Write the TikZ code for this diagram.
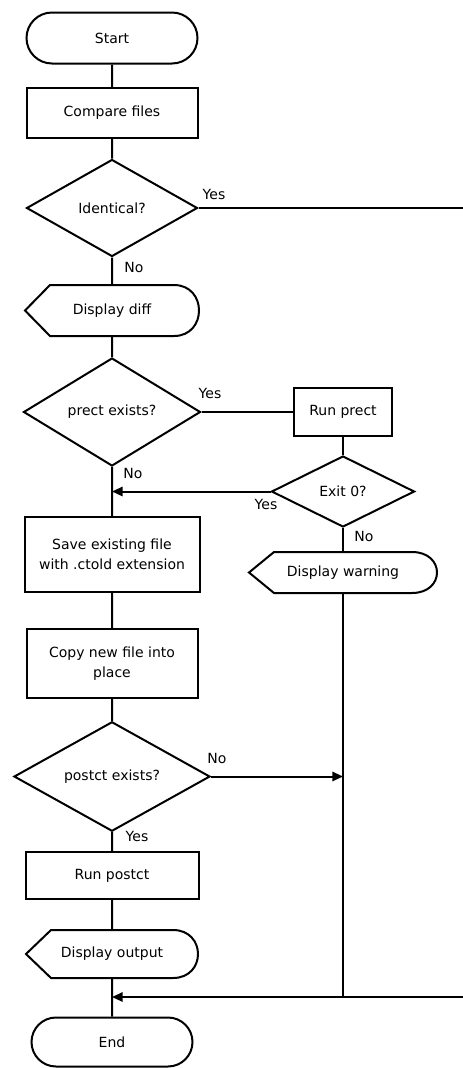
\documentclass[tikz,border=0pt]{standalone}
\usepackage{fontspec}
\setmainfont{DejaVu Sans}
\usetikzlibrary{shapes.geometric,shapes.misc,arrows.meta}
\tikzset{
  chart/.style={draw,line width=1.5pt,font=\fontsize{10.5}{14.6}\selectfont,align=center,inner sep=0pt},
  terminal/.style={chart,rounded rectangle},
  process/.style={chart,rectangle},
  decision/.style={chart,diamond},
  display/.style={chart,draw=none},
  flow/.style={line width=1.5pt},
  tip/.style={flow,-{Triangle[length=8pt,width=7pt]}},
  lbl/.style={font=\fontsize{10.5}{12}\selectfont,inner sep=0pt}
}

\begin{document}
\begin{tikzpicture}[x=0.75pt,y=-0.75pt]
  \useasboundingbox (0,0) rectangle (463,1068);
  \node[terminal,minimum width=128.25pt,minimum height=38.25pt] (start) at (112,38) {Start};
  \node[process,minimum width=128.25pt,minimum height=37.5pt] (cmp) at (112,113) {Compare files};
  \node[decision,minimum width=128.25pt,minimum height=72.75pt] (ident) at (112,208) {Identical?};
  \node[display,minimum width=129pt,minimum height=36.75pt] (ddiff) at (112,310.5) {Display diff};
  \node[decision,minimum width=132.75pt,minimum height=81pt] (prex) at (112,412) {prect exists?};
  \node[process,minimum width=73.5pt,minimum height=36pt] (runpre) at (343,412) {Run prect};
  \node[decision,minimum width=107.25pt,minimum height=53.25pt] (exit) at (343,491.5) {Exit 0?};
  \node[display,minimum width=139.5pt,minimum height=29.25pt] (dwarn) at (343,572.5) {Display warning};
  \node[process,minimum width=131.25pt,minimum height=56.25pt] (save) at (112,554.5)
    {Save existing file\\with .ctold extension};
  \node[process,minimum width=128.25pt,minimum height=51.75pt] (copy) at (112,663.5)
    {Copy new file into\\place};
  \node[decision,minimum width=147pt,minimum height=74.25pt] (postex) at (112,776.5) {postct exists?};
  \node[process,minimum width=129.75pt,minimum height=35.25pt] (runpost) at (112,875.5) {Run postct};
  \node[display,minimum width=127.5pt,minimum height=34.5pt] (dout) at (112,954) {Display output};
  \node[terminal,minimum width=120.75pt,minimum height=36.75pt] (end) at (112,1042) {End};

  \foreach \d in {ddiff,dwarn,dout}
    \draw[flow] (\d.west) -- ([xshift=18.75pt]\d.north west) -- ([xshift=-18.75pt]\d.north east)
      .. controls ([xshift=6.25pt]\d.north east) and ([xshift=6.25pt]\d.south east) .. ([xshift=-18.75pt]\d.south east)
      -- ([xshift=18.75pt]\d.south west) -- cycle;

  \coordinate (edge1) at (463,208);
  \coordinate (edge2) at (463,997);
  \coordinate (jn1) at (prex.south |- exit.west);
  \coordinate (jn2) at (dwarn.south |- postex.east);
  \coordinate (jn3) at (dwarn.south |- edge2);
  \coordinate (jn4) at (dout.south |- edge2);

  \draw[flow] (start) -- (cmp) -- (ident) -- (ddiff) -- (prex) -- (save) -- (copy) -- (postex)
    -- (runpost) -- (dout) -- (end);
  \draw[flow] (ident) -- (edge1);
  \draw[flow] (prex) -- (runpre);
  \draw[flow] (runpre) -- (exit);
  \draw[tip] (exit.west) -- (jn1);
  \draw[flow] (exit) -- (dwarn);
  \draw[flow] (dwarn) -- (jn3);
  \draw[tip] (postex.east) -- (jn2);
  \draw[tip] (edge2) -- (jn4);

  \node[lbl] (yes1) at (214,194) {Yes};
  \node[lbl] (no1) at (134,267) {No};
  \node[lbl] (yes2) at (210,393) {Yes};
  \node[lbl] (no2) at (133,473) {No};
  \node[lbl] (yes3) at (266,504) {Yes};
  \node[lbl] (no3) at (364,536) {No};
  \node[lbl] (no4) at (217,758) {No};
  \node[lbl] (yes4) at (137,836) {Yes};
\end{tikzpicture}
\end{document}
